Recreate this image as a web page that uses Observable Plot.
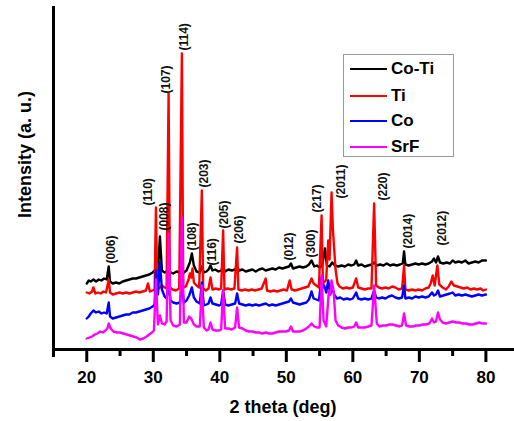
<!DOCTYPE html>
<html><head><meta charset="utf-8">
<script src="https://cdn.jsdelivr.net/npm/d3@7"></script>
<script src="https://cdn.jsdelivr.net/npm/@observablehq/plot@0.6"></script>
<style>
html,body{margin:0;padding:0;background:#fff;overflow:hidden;}
#wrap{position:relative;width:514px;height:421px;font-family:"Liberation Sans",Arial,sans-serif;overflow:hidden;}
#chart svg{display:block;}
#legend{position:absolute;left:343px;top:54px;width:109px;height:101px;border:1px solid #999;background:#fff;}
.item{position:absolute;left:6px;height:20px;display:flex;align-items:center;}
.sw{display:inline-block;width:37px;height:2px;margin-right:4px;}
.lb{font-weight:bold;font-size:17px;color:#000;}
</style></head>
<body>
<div id="wrap"><div id="chart"></div><div id="legend"></div></div>
<script>
const seriesNames = ["Co-Ti", "Ti", "Co", "SrF"];
const seriesColors = ["#000000", "#ff0000", "#0000ff", "#ff00ff"];

const coTi = [[20,66],[20.3,69],[20.6,68],[21,70],[21.4,68],[21.8,70],[22.2,69],[22.6,71],[23.0,70],[23.3,83],[23.5,68],[23.9,66],[24.4,67],[24.9,66],[25.4,68],[25.9,69],[26.4,70],[26.9,71],[27.4,71],[27.9,72],[28.4,73],[28.9,74],[29.4,75],[29.9,77],[30.4,80],[30.7,78],[31.0,113],[31.3,79],[31.7,77],[32.0,78],[32.3,81],[32.6,77],[33.0,76],[33.5,78],[34.0,77],[34.3,80],[34.6,77],[35.0,79],[35.5,87],[35.8,96],[36.1,84],[36.5,78],[37.0,77],[37.3,83],[37.6,77],[38.0,78],[38.3,80],[38.6,84],[38.9,79],[39.3,80],[39.8,78],[40.2,79],[40.5,82],[40.8,78],[41.3,80],[41.8,79],[42.3,80],[42.6,83],[42.9,79],[43.4,80],[43.9,78],[44.4,79],[44.9,80],[45.4,78],[45.9,80],[46.4,81],[46.9,79],[47.4,80],[47.9,81],[48.4,80],[48.9,82],[49.4,81],[49.9,82],[50.4,83],[50.7,86],[51.0,81],[51.5,82],[52.0,83],[52.5,82],[53.0,83],[53.4,85],[53.8,89],[54.2,83],[54.6,84],[55.0,82],[55.4,84],[55.8,101],[56.1,84],[56.5,83],[56.9,87],[57.3,84],[57.8,83],[58.3,84],[58.8,83],[59.3,85],[59.8,84],[60.2,85],[60.5,89],[60.8,84],[61.3,85],[61.8,83],[62.3,84],[62.8,85],[63.2,87],[63.6,84],[64.1,85],[64.6,84],[65.1,86],[65.6,84],[66.1,85],[66.6,84],[67.1,85],[67.5,86],[67.7,98],[67.9,85],[68.4,84],[68.9,85],[69.4,86],[69.9,85],[70.4,86],[70.9,85],[71.4,86],[71.9,88],[72.2,91],[72.5,87],[72.8,93],[73.1,87],[73.6,86],[74.1,87],[74.6,86],[75.0,89],[75.4,87],[75.9,88],[76.4,87],[76.9,89],[77.4,86],[77.9,87],[78.4,88],[78.9,87],[79.4,89],[80,89]];

const ti = [[20,57],[20.4,56],[20.8,58],[21.0,62],[21.3,56],[21.7,57],[22.1,56],[22.5,58],[22.9,57],[23.3,70],[23.5,57],[23.9,55],[24.4,56],[24.9,57],[25.4,56],[25.9,57],[26.4,56],[26.9,57],[27.4,58],[27.9,57],[28.4,58],[28.9,59],[29.2,66],[29.5,58],[29.9,59],[30.2,60],[30.4,142],[30.6,60],[31.0,62],[31.3,64],[31.7,62],[32.0,61],[32.3,256],[32.5,62],[32.9,60],[33.4,59],[33.9,61],[34.3,296],[34.5,62],[34.9,63],[35.3,70],[35.5,76],[35.7,72],[35.9,81],[36.1,67],[36.5,64],[36.9,62],[37.3,159],[37.5,61],[37.9,59],[38.3,61],[38.6,72],[38.9,60],[39.4,61],[39.9,60],[40.2,61],[40.5,119],[40.7,60],[41.2,61],[41.7,60],[42.2,61],[42.6,102],[42.8,60],[43.3,59],[43.8,60],[44.3,59],[44.8,60],[45.3,59],[45.8,60],[46.3,61],[46.9,71],[47.1,59],[47.6,58],[48.1,59],[48.6,58],[49.1,59],[49.6,60],[50.1,59],[50.5,69],[50.8,60],[51.3,59],[51.8,60],[52.3,61],[52.8,62],[53.3,63],[53.8,71],[54.1,66],[54.5,64],[54.9,62],[55.3,134],[55.5,66],[55.8,68],[56.0,70],[56.3,109],[56.5,90],[56.8,157],[57.0,120],[57.2,100],[57.4,80],[57.7,66],[58.0,63],[58.5,61],[59.0,62],[59.5,61],[60.0,62],[60.5,71],[60.8,62],[61.3,61],[61.8,60],[62.3,61],[62.8,61],[63.2,146],[63.5,64],[63.9,62],[64.4,61],[64.9,62],[65.4,61],[65.9,63],[66.4,62],[66.9,60],[67.4,61],[67.7,84],[67.9,60],[68.4,59],[68.9,60],[69.4,59],[69.9,60],[70.4,59],[70.9,61],[71.4,62],[71.7,66],[72.0,74],[72.3,64],[72.7,84],[73.0,65],[73.5,62],[74.0,60],[74.4,63],[74.8,68],[75.2,64],[75.7,63],[76.2,62],[76.7,61],[77.2,62],[77.7,60],[78.2,61],[78.7,60],[79.2,61],[79.6,59],[80,60]];

const co = [[20,31],[20.3,33],[20.6,36],[21,39],[21.4,37],[21.8,38],[22.2,36],[22.6,37],[23.0,36],[23.3,47],[23.5,33],[23.9,31],[24.4,32],[24.9,33],[25.4,34],[25.9,35],[26.4,35],[26.9,37],[27.4,37],[27.9,38],[28.4,39],[28.9,40],[29.4,41],[29.9,43],[30.2,45],[30.4,79],[30.7,55],[31.0,87],[31.3,60],[31.7,53],[32.0,51],[32.3,64],[32.6,49],[33.0,47],[33.5,46],[34.0,47],[34.3,64],[34.6,47],[35.0,49],[35.4,54],[35.8,62],[36.1,52],[36.5,48],[37.0,46],[37.3,67],[37.6,44],[38.0,45],[38.3,46],[38.6,52],[38.9,46],[39.4,45],[39.9,44],[40.2,45],[40.5,59],[40.8,45],[41.3,44],[41.8,45],[42.3,46],[42.6,56],[42.9,46],[43.4,45],[43.9,44],[44.4,45],[44.9,44],[45.4,45],[45.9,44],[46.4,45],[46.9,46],[47.4,44],[47.9,45],[48.4,44],[48.9,45],[49.4,46],[49.9,47],[50.4,48],[50.7,51],[51.0,47],[51.5,46],[52.0,45],[52.5,46],[53.0,47],[53.4,50],[53.8,58],[54.1,51],[54.5,50],[54.9,49],[55.3,72],[55.5,62],[55.7,64],[56.0,57],[56.3,69],[56.6,55],[56.9,62],[57.2,55],[57.6,51],[58.1,52],[58.6,50],[59.1,51],[59.6,50],[60.0,51],[60.5,57],[60.8,51],[61.3,50],[61.8,51],[62.3,50],[62.8,51],[63.2,59],[63.5,52],[63.9,51],[64.4,52],[64.9,51],[65.4,53],[65.9,54],[66.4,52],[66.9,51],[67.4,52],[67.7,64],[67.9,51],[68.4,52],[68.9,51],[69.4,53],[69.9,52],[70.4,53],[70.9,52],[71.4,53],[71.9,57],[72.2,54],[72.5,55],[72.8,59],[73.1,53],[73.6,54],[74.1,55],[74.6,56],[75.0,57],[75.4,54],[75.9,55],[76.4,54],[76.9,55],[77.4,54],[77.9,53],[78.4,54],[78.9,55],[79.4,54],[80,55]];

const srF = [[20,11],[20.4,12],[20.8,13],[21.2,15],[21.6,16],[22.0,18],[22.4,17],[22.8,19],[23.1,21],[23.3,26],[23.6,21],[24.0,18],[24.5,17],[25.0,17],[25.5,16],[26.0,15],[26.5,14],[27.0,13],[27.5,12],[28.0,10],[28.5,11],[29.0,13],[29.4,15],[29.8,17],[30.1,19],[30.4,70],[30.7,25],[31.0,34],[31.3,26],[31.7,25],[32.0,28],[32.3,116],[32.6,29],[33.0,24],[33.5,23],[34.0,25],[34.3,132],[34.6,27],[35.0,27],[35.4,33],[35.7,31],[36.1,25],[36.5,23],[37.0,23],[37.3,64],[37.6,22],[38.0,19],[38.3,20],[38.6,27],[38.9,20],[39.4,19],[39.9,19],[40.2,20],[40.5,59],[40.8,21],[41.3,21],[41.8,20],[42.3,22],[42.6,42],[42.9,22],[43.4,21],[43.9,19],[44.4,18],[44.9,18],[45.4,17],[45.9,17],[46.4,16],[46.9,17],[47.4,16],[47.9,16],[48.4,17],[48.9,18],[49.4,18],[49.9,18],[50.4,19],[50.7,23],[51.0,18],[51.5,18],[52.0,18],[52.5,19],[53.0,21],[53.4,23],[53.8,26],[54.2,23],[54.6,22],[55.0,22],[55.3,74],[55.6,29],[56.0,23],[56.4,59],[56.6,55],[56.8,69],[57.1,59],[57.4,29],[57.8,24],[58.3,22],[58.8,21],[59.3,22],[59.8,22],[60.2,23],[60.5,27],[60.8,22],[61.3,22],[61.8,22],[62.3,23],[62.8,24],[63.2,64],[63.6,26],[64.0,23],[64.5,24],[65.0,24],[65.5,25],[66.0,25],[66.5,24],[67.0,23],[67.4,24],[67.7,36],[68.0,24],[68.5,23],[69.0,23],[69.5,24],[70.0,24],[70.5,25],[71.0,25],[71.5,26],[71.9,31],[72.2,27],[72.5,28],[72.8,37],[73.1,30],[73.5,27],[74.0,26],[74.5,27],[75.0,28],[75.5,27],[76.0,27],[76.5,26],[77.0,26],[77.5,25],[78.0,25],[78.5,26],[79.0,27],[79.5,26],[80,26]];

const peakLabels = ["(006)","(110)","(107)","(114)","(008)","(203)","(108)","(116)","(205)","(206)","(012)","(300)","(217)","(2011)","(220)","(2014)","(2012)"];
const peakLabelX = [23.6, 29.3, 31.9, 34.6, 31.6, 37.6, 35.9, 38.9, 40.6, 42.9, 50.4, 53.7, 54.7, 58.2, 64.5, 68.3, 73.5];
const peakLabelY = [86, 144, 256, 299, 119, 162, 99, 84, 121, 106, 89, 92, 137, 151, 149, 101, 104];

const majorTicks = [20, 30, 40, 50, 60, 70, 80];
const minorTicks = [25, 35, 45, 55, 65, 75];
const xLabel = "2 theta (deg)";
const yLabel = "Intensity (a. u.)";

const allSeries = [coTi, ti, co, srF];
const rows = allSeries.flatMap((s, i) => s.map(([t, v]) => ({t, v, s: seriesNames[i]})));
const labels = peakLabels.map((l, i) => ({l, x: peakLabelX[i], y: peakLabelY[i]}));
const font = "'Liberation Sans', Arial, sans-serif";

const chart = Plot.plot({
  width: 514, height: 421,
  marginLeft: 53, marginRight: 2, marginTop: 7, marginBottom: 72,
  x: {domain: [15, 84.0], axis: null},
  y: {domain: [0, 342], axis: null},
  color: {domain: seriesNames, range: seriesColors},
  style: {fontFamily: font},
  marks: [
    ...seriesNames.map(n => Plot.line(rows.filter(d => d.s === n), {x: "t", y: "v", stroke: "s", strokeWidth: 2.4, curve: "linear"})),
    Plot.text(labels, {x: "x", y: "y", text: "l", rotate: -90, textAnchor: "start", fontSize: 12, fontWeight: "bold", fill: "#111"}),
    Plot.frame({anchor: "bottom", strokeWidth: 3}),
    Plot.frame({anchor: "left", strokeWidth: 3, insetBottom: -6}),
    Plot.axisX({ticks: majorTicks, tickSize: 13, strokeWidth: 3, tickPadding: 8, fontSize: 17, fontWeight: "bold", label: null}),
    Plot.axisX({ticks: minorTicks, tickSize: 7, strokeWidth: 3, tickFormat: () => "", label: null}),
    Plot.text([yLabel], {text: d => d, frameAnchor: "left", textAnchor: "middle", rotate: -90, dx: -28, dy: -24, fontSize: 18, fontWeight: "bold"}),
    Plot.text([xLabel], {text: d => d, frameAnchor: "bottom", dy: 63, fontSize: 18, fontWeight: "bold"})
  ]
});
document.getElementById("chart").appendChild(chart);

const legend = document.getElementById("legend");
const legendTops = [4, 31, 56, 82];
seriesNames.forEach((n, i) => {
  const item = document.createElement("div");
  item.className = "item";
  item.style.top = legendTops[i] + "px";
  item.innerHTML = `<span class="sw" style="background:${seriesColors[i]}"></span><span class="lb">${n}</span>`;
  legend.appendChild(item);
});
</script>
</body></html>
